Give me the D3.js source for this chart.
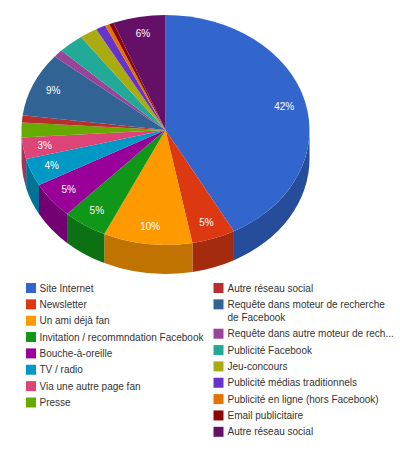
<!DOCTYPE html>
<html>
<head>
<meta charset="utf-8">
<style>
  html, body { margin: 0; padding: 0; background: #fff; }
  svg { display: block; }
  text { font-family: "Liberation Sans", Arial, sans-serif; font-size: 10px; }
</style>
<script src="https://cdn.jsdelivr.net/npm/d3@7"></script>
</head>
<body>
<div id="wrapper"></div>
<script>
const categories = [
  "Site Internet", "Newsletter", "Un ami déjà fan", "Invitation / recommndation Facebook",
  "Bouche-à-oreille", "TV / radio", "Via une autre page fan", "Presse",
  "Autre réseau social", "Requête dans moteur de recherche|de Facebook",
  "Requête dans autre moteur de rech...", "Publicité Facebook", "Jeu-concours",
  "Publicité médias traditionnels", "Publicité en ligne (hors Facebook)",
  "Email publicitaire", "Autre réseau social"
]
const values = [42.2, 4.9, 10, 5, 5.1, 3.9, 3, 2.1, 1, 9, 1.1, 2.9, 2, 1.1, 0.5, 0.5, 5.9]
const colors = [
  "#3366cc", "#dc3912", "#ff9900", "#109618", "#990099", "#0099c6", "#dd4477", "#66aa00",
  "#b82e2e", "#316395", "#994499", "#22aa99", "#aaaa11", "#6633cc", "#e67300", "#8b0707", "#651067"
]

const width = 400
const height = 457
const cx = 165.5
const cy = 130
const rx = 144
const ry = 115
const depth = 29
const labelRadius = rx * 0.85
const labelMin = 3

const wrapper = d3.select("#wrapper")
  .append("svg")
    .attr("width", width)
    .attr("height", height)

const slices = d3.pie().sort(null)(values)

// side walls, only the front half of the pie shows
const halfPi = Math.PI / 2
const ellipseX = a => cx + rx * Math.sin(a)
const ellipseY = a => cy - ry * Math.cos(a)

function wallPath(d) {
  const a0 = Math.max(d.startAngle, halfPi)
  const a1 = Math.min(d.endAngle, 3 * halfPi)
  if (a1 <= a0) return null
  return `M${ellipseX(a0)},${ellipseY(a0)}`
    + `A${rx},${ry} 0 0 1 ${ellipseX(a1)},${ellipseY(a1)}`
    + `L${ellipseX(a1)},${ellipseY(a1) + depth}`
    + `A${rx},${ry} 0 0 0 ${ellipseX(a0)},${ellipseY(a0) + depth}Z`
}

wrapper.append("g")
  .selectAll("path")
  .data(slices.filter(d => wallPath(d)))
  .join("path")
    .attr("d", wallPath)
    .attr("fill", d => d3.color(colors[d.index]).darker(0.8))

// top of the pie, a circle squashed into an ellipse
const arc = d3.arc().innerRadius(0).outerRadius(rx)

wrapper.append("g")
    .attr("transform", `translate(${cx},${cy}) scale(1,${ry / rx})`)
  .selectAll("path")
  .data(slices)
  .join("path")
    .attr("d", arc)
    .attr("fill", d => colors[d.index])

const labelArc = d3.arc().innerRadius(labelRadius).outerRadius(labelRadius)

wrapper.append("g")
  .selectAll("text")
  .data(slices.filter(d => d.value >= labelMin))
  .join("text")
    .attr("x", d => cx + labelArc.centroid(d)[0])
    .attr("y", d => cy + labelArc.centroid(d)[1] * ry / rx)
    .attr("dy", "0.35em")
    .attr("text-anchor", "middle")
    .attr("fill", "#fff")
    .text(d => Math.round(d.value) + "%")

// legend, two columns, the first one has 8 rows
const rowHeight = 16.35
const legendTop = 288
const columns = [
  { items: d3.range(0, 8), x: 26, textX: 39.5 },
  { items: d3.range(8, 17), x: 213.5, textX: 227.5 },
]

columns.forEach(col => {
  let y = legendTop
  col.items.forEach(i => {
    const lines = categories[i].split("|")
    const row = wrapper.append("g")

    row.append("rect")
        .attr("x", col.x)
        .attr("y", y - 5)
        .attr("width", 10)
        .attr("height", 10)
        .attr("fill", colors[i])

    row.selectAll("text")
      .data(lines)
      .join("text")
        .attr("x", col.textX)
        .attr("y", (d, n) => y + n * 13)
        .attr("dy", "0.35em")
        .attr("fill", "#333")
        .text(d => d)

    y += rowHeight + (lines.length - 1) * 13
  })
})
</script>
</body>
</html>
